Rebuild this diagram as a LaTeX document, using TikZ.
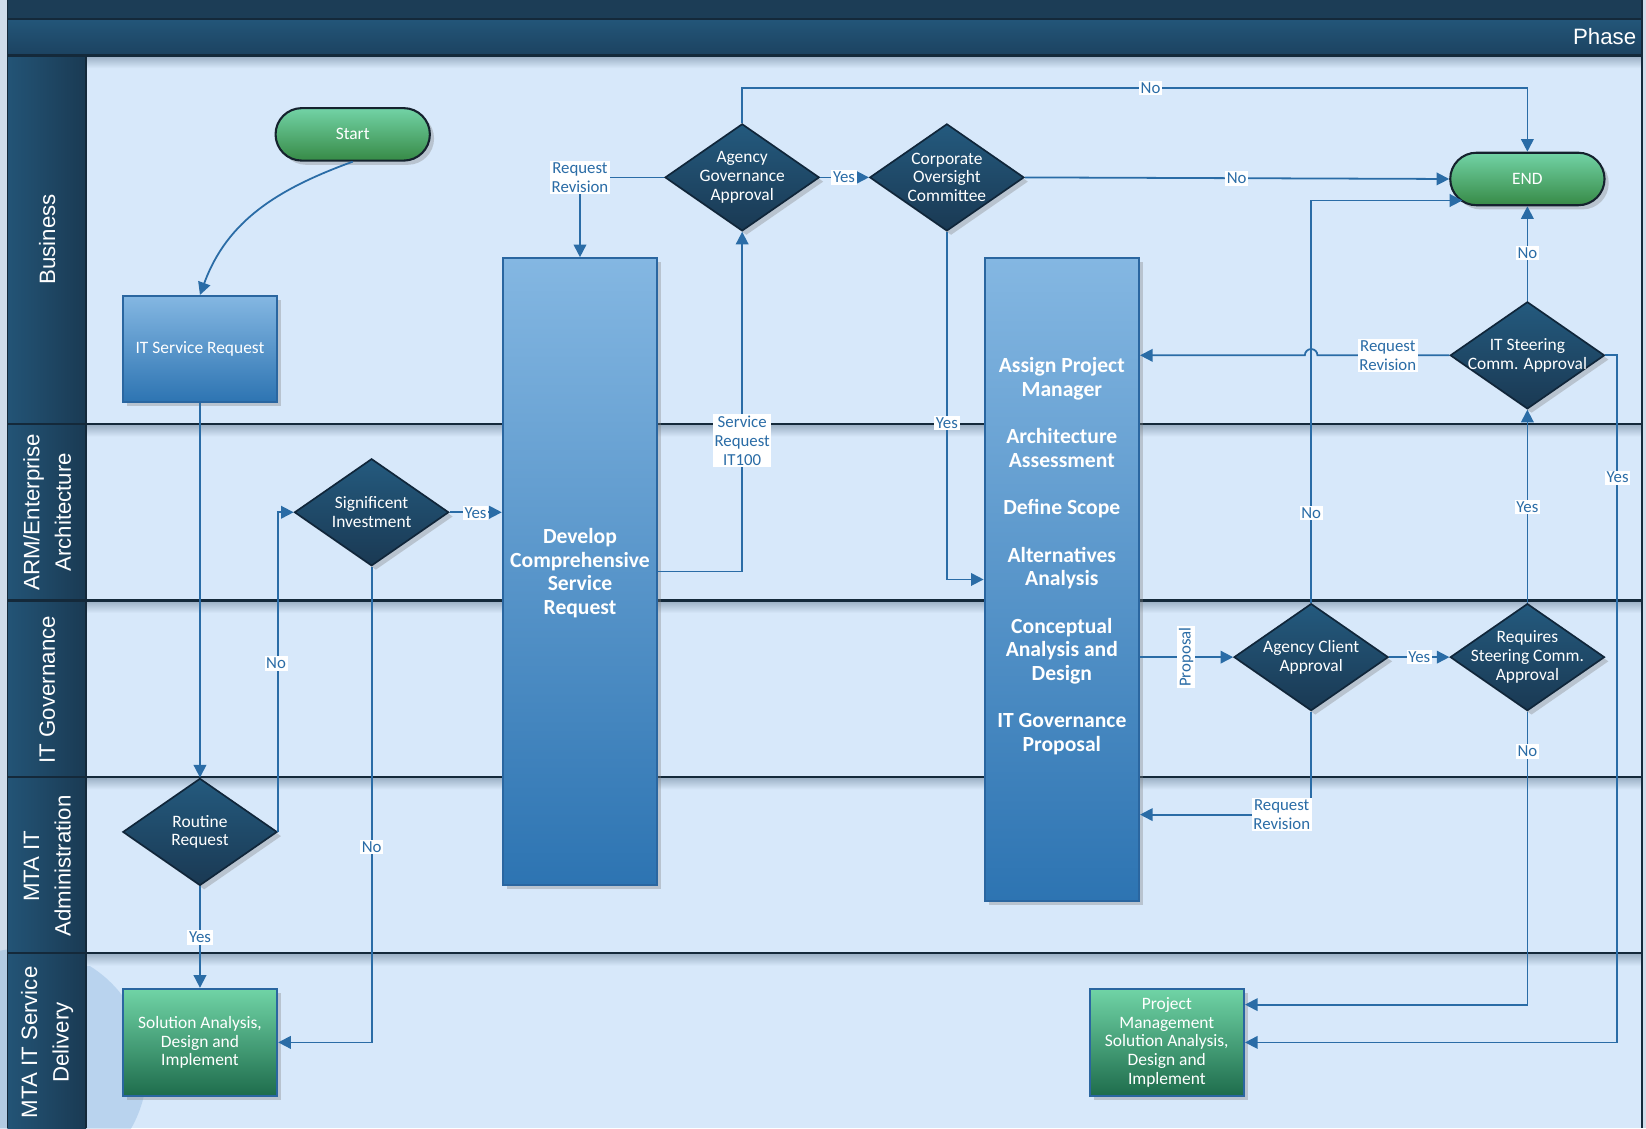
\documentclass[tikz,border=0pt]{standalone}
\usepackage{fontspec}
\setmainfont{Carlito}
\newfontfamily\lanefont{Liberation Sans}
\usetikzlibrary{shapes.geometric,arrows.meta,shadows,calc}
\definecolor{pagebg}{HTML}{CFDCEA}
\definecolor{lanebg}{HTML}{D7E8FA}
\definecolor{framedark}{HTML}{1C3D56}
\definecolor{hdrtop}{HTML}{235679}
\definecolor{hdrbot}{HTML}{1C4260}
\definecolor{colL}{HTML}{235476}
\definecolor{colR}{HTML}{1A3A53}
\definecolor{sepline}{HTML}{14293A}
\definecolor{sepshadow}{HTML}{98ADC2}
\definecolor{wmblue}{HTML}{6D9FD0}
\definecolor{linkblue}{HTML}{2A6CA6}
\definecolor{diatop}{HTML}{245A7E}
\definecolor{diabot}{HTML}{1A3953}
\definecolor{diaedge}{HTML}{10263A}
\definecolor{btop}{HTML}{84B7E2}
\definecolor{bbot}{HTML}{2D74B2}
\definecolor{bedge}{HTML}{2A66A0}
\definecolor{gtop}{HTML}{70D4A6}
\definecolor{gbot}{HTML}{1E6C4C}
\definecolor{ttop}{HTML}{72D3A6}
\definecolor{tbot}{HTML}{378A46}
\definecolor{tedge}{HTML}{15222E}
\newcommand\nodefontA{\fontsize{8.3pt}{9pt}\selectfont}
\newcommand\bigfontA{\fontsize{10.3pt}{11.3pt}\selectfont\bfseries}
\newcommand\elabfont{\fontsize{8pt}{9pt}\selectfont}
\newcommand\lanefontA{\lanefont\fontsize{10.6pt}{15pt}\selectfont}
\begin{document}
\begin{tikzpicture}[x=0.5pt,y=-0.5pt,
  conn/.style={draw=linkblue, line width=0.85pt, -{Triangle[length=6pt,width=6pt]}},
  elab/.style={fill=white, text=linkblue, font=\elabfont, inner sep=0.8pt, align=center},
  shad/.style={drop shadow={shadow xshift=2pt,shadow yshift=-2pt,opacity=0.35}},
  dia/.style={diamond, minimum width=73.5pt, minimum height=51pt, inner sep=0pt,
    draw=diaedge, line width=0.8pt, top color=diatop, bottom color=diabot, shad},
  diatext/.style={text=white, font=\nodefontA, align=center, inner sep=0pt},
  bluerect/.style={rectangle, minimum width=73.5pt, inner sep=1pt, draw=bedge, line width=1pt,
    top color=btop, bottom color=bbot, text=white, font=\nodefontA, align=center, shad},
  greenrect/.style={rectangle, minimum width=73.5pt, minimum height=51pt, inner sep=1pt,
    draw=bedge, line width=1pt, top color=gtop, bottom color=gbot, text=white,
    font=\nodefontA, align=center, shad},
  term/.style={rectangle, rounded corners=12.5pt, minimum width=73.5pt, minimum height=25pt,
    draw=tedge, line width=1pt, top color=ttop, bottom color=tbot, text=white,
    font=\nodefontA, shad},
  bigtext/.style={text=white, font=\bigfontA, align=center, inner sep=0pt},
  lanelab/.style={text=white, font=\lanefontA, align=center, rotate=90, inner sep=0pt}
]
\useasboundingbox (0,0) rectangle (1568,1075);
% page and lane background
\fill[pagebg] (0,0) rectangle (1568,1075);
\fill[lanebg] (82,53) rectangle (1563,1075);
\begin{scope}
\clip (0,0) rectangle (1568,1075);
\fill[wmblue, opacity=0.28] (25,1018) circle[radius=57.5pt];
\end{scope}
% label column
\fill[left color=colL, right color=colR] (7,53) rectangle (82,1075);
% header
\fill[framedark] (7,0) rectangle (1565,18);
\fill[top color=hdrtop, bottom color=hdrbot] (7,18) rectangle (1565,53);
\draw[sepline, line width=1pt] (7,18) -- (1565,18);
% separator shadows and lines
\foreach \yy in {53,404,572,740,908}{
  \fill[top color=sepshadow, bottom color=lanebg] (82,\yy) rectangle (1563,\yy+12);
  \draw[sepline, line width=1.2pt] (7,\yy) -- (1563,\yy);
}
\draw[sepline, line width=1.2pt] (82,53) -- (82,1075);
\draw[sepline, line width=1.2pt] (1564,0) -- (1564,1075);
\draw[sepline, line width=0.8pt] (7,0) -- (7,1075);
% header text
\node[text=white, font=\lanefont\fontsize{10.6pt}{12pt}\selectfont, anchor=east, inner sep=0pt] (phase) at (1559,35) {Phase};
% lane labels
\node[lanelab] (lb1) at (45,228) {Business};
\node[lanelab] (lb2) at (45,488) {ARM/Enterprise\\Architecture};
\node[lanelab] (lb3) at (45,657) {IT Governance};
\node[lanelab] (lb4) at (45,825) {MTA IT\\Administration};
\node[lanelab] (lb5) at (45,993) {MTA IT Service\\Delivery};
% nodes
\node[term] (start) at (336,128) {Start};
\node[term] (end) at (1455,170.5) {END};
\node[bluerect, minimum height=50.5pt] (itsr) at (190.5,332.5) {IT Service Request};
\node[bluerect, minimum height=298.5pt] (dev) at (552.5,544.5) {};
\node[bigtext] (devt) at (552.5,546) {Develop\\Comprehensive\\Service\\Request};
\node[bluerect, minimum height=306pt] (apm) at (1011.5,552) {};
\node[bigtext] (apmt) at (1011.5,530) {Assign Project\\Manager\\[11.2pt]Architecture\\Assessment\\[11.2pt]Define Scope\\[11.2pt]Alternatives\\Analysis\\[11.2pt]Conceptual\\Analysis and\\Design\\[11.2pt]IT Governance\\Proposal};
\node[dia] (ag) at (707,169) {};
\node[diatext] (agt) at (ag) {Agency\\Governance\\Approval};
\node[dia] (co) at (902,169) {};
\node[diatext] (cot) at (co) {Corporate\\Oversight\\Committee};
\node[dia] (its) at (1455,338.5) {};
\node[diatext] (itst) at (its) {IT Steering\\Comm. Approval};
\node[dia] (si) at (354,488) {};
\node[diatext] (sit) at (si) {Significent\\Investment};
\node[dia] (rr) at (190.5,792.5) {};
\node[diatext] (rrt) at (rr) {Routine\\Request};
\node[dia] (ac) at (1249,626) {};
\node[diatext] (act) at (ac) {Agency Client\\Approval};
\node[dia] (rq) at (1455,626) {};
\node[diatext] (rqt) at (rq) {Requires\\Steering Comm.\\Approval};
\node[greenrect] (sol) at (190.5,993) {Solution Analysis,\\Design and\\Implement};
\node[greenrect] (pm) at (1111.5,993) {Project\\Management\\Solution Analysis,\\Design and\\Implement};
% helper coordinates
\coordinate (topno) at (1096,84);
\coordinate (endin) at (1393,191);
\coordinate (rtx) at (1540,338.5);
% connectors
\draw[conn] (start.south) to[out=200,in=70] (itsr.north);
\draw[conn] (itsr.south) -- (rr.north);
\draw[conn] (rr.east) |- (si.west);
\draw[conn] (rr.south) -- (sol.north);
\draw[conn] (si.south) |- (sol.east);
\draw[conn] (si.east) -- (dev.west |- si.east);
\draw[conn] (dev.east) -| (ag.south);
\draw[conn] (ag.west) -| (dev.north);
\draw[conn] (ag.east) -- (co.west);
\draw[conn] (ag.north) |- (topno) -| (end.north);
\draw[conn] (co.east) -- (end.west);
\draw[conn] (co.south) |- (apm.west);
\draw[conn] (its.west) -- ($(ac.north |- its.west)+(6,0)$) arc[start angle=0,end angle=180,radius=3pt] -- (apm.east |- its.west);
\draw[conn] (its.north) -- (end.south);
\draw[conn] (its.east) -- (rtx) |- (pm.east);
\draw[conn] (apm.east |- ac.west) -- (ac.west);
\draw[conn] (ac.north) |- (endin);
\draw[conn] (ac.east) -- (rq.west);
\draw[conn] (ac.south) |- ([yshift=-112pt]apm.east);
\draw[conn] (rq.north) -- (its.south);
\draw[conn] (rq.south) |- ([yshift=18pt]pm.east);
% edge labels
\node[elab] (e1) at (263,632) {No};
\node[elab] (e2) at (190.5,893) {Yes};
\node[elab] (e3) at (354,807) {No};
\node[elab] (e4) at (453,489) {Yes};
\node[elab] (e5) at (707,420) {Service\\Request\\IT100};
\node[elab] (e6) at (552.5,169) {Request\\Revision};
\node[elab] (e7) at (804,169) {Yes};
\node[elab] (e8) at (topno) {No};
\node[elab] (e9) at (1178,170) {No};
\node[elab] (e10) at (902,403) {Yes};
\node[elab] (e11) at (1322,338.5) {Request\\Revision};
\node[elab] (e12) at (1455,241) {No};
\node[elab] (e13) at (1541,455) {Yes};
\node[elab, rotate=90] (e14) at (1130,626) {Proposal};
\node[elab] (e15) at (1249,489) {No};
\node[elab] (e16) at (1352,626) {Yes};
\node[elab] (e17) at (1221,776) {Request\\Revision};
\node[elab] (e18) at (1455,483) {Yes};
\node[elab] (e19) at (1455,716) {No};
\end{tikzpicture}
\end{document}
